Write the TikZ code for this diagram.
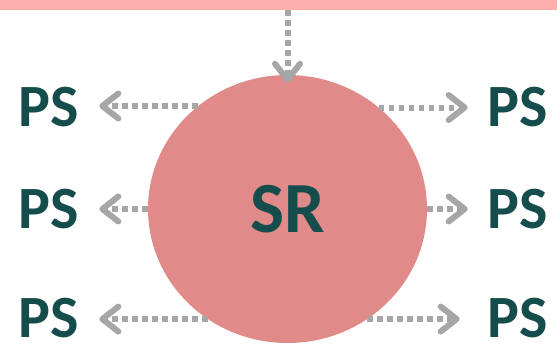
\documentclass[tikz,border=0pt]{standalone}
\usepackage{fontspec}
\setmainfont{Carlito}
\usetikzlibrary{arrows.meta,shapes.geometric}
\definecolor{barpink}{RGB}{255,174,174}
\definecolor{srpink}{RGB}{224,138,138}
\definecolor{linkgray}{RGB}{166,166,166}
\definecolor{psteal}{RGB}{21,76,76}
\tikzset{
  link/.style={linkgray, line width=6pt, dash pattern=on 5.5pt off 4.5pt,
    -{Straight Barb[length=16pt,width=25pt,line cap=round,line join=round]}},
  pslabel/.style={text=psteal, font=\fontsize{60}{60}\selectfont\bfseries,
    inner xsep=20pt, inner ysep=0pt}
}
\begin{document}
\begin{tikzpicture}[x=1pt,y=-1pt]
\useasboundingbox (0,0) rectangle (557,346);
% bar on top and the big SR circle
\node[fill=barpink, anchor=north west, minimum width=557pt, minimum height=10pt, inner sep=0pt] (bar) at (0,0) {};
\node[ellipse, fill=srpink, minimum width=279pt, minimum height=268pt, inner sep=0pt,
  text=psteal, font=\fontsize{72}{72}\selectfont\bfseries] (sr) at (287.5,209) {SR};
% PS labels
\node[pslabel] (psl1) at (49,107) {PS};
\node[pslabel] (psl2) at (49,209) {PS};
\node[pslabel] (psr1) at (518,107) {PS};
\node[pslabel] (psr2) at (518,209) {PS};
\node[pslabel] (psl3) at (49,318) {PS};
\node[pslabel] (psr3) at (518,318) {PS};
% arrows
\draw[link] (bar.south -| sr.north) -- ([yshift=-8pt]sr.north);
\draw[link] (sr.131.6) -- (sr.131.6 -| psl1.east);
\draw[link] (sr.180) -- (sr.180 -| psl2.east);
\draw[link] (sr.234.1) -- (sr.234.1 -| psl3.east);
\draw[link] (sr.48.4) -- (sr.48.4 -| psr1.west);
\draw[link] (sr.0) -- (sr.0 -| psr2.west);
\draw[link, shorten >=8pt] (sr.-54.1) -- (sr.-54.1 -| psr3.west);
\end{tikzpicture}
\end{document}
